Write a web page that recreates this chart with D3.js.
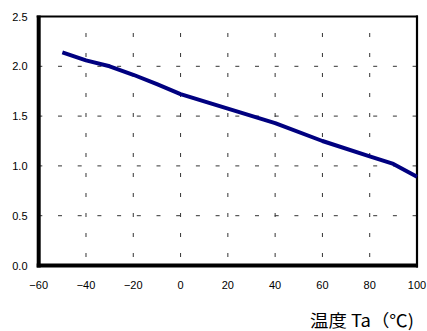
<!DOCTYPE html>
<html><head><meta charset="utf-8">
<script src="https://cdn.jsdelivr.net/npm/d3@7"></script>
<style>body{margin:0;background:#fff;} svg{display:block;}</style>
</head><body>
<svg id="c" width="427" height="331"></svg>
<script>
const temps = [-50, -40, -30, -20, -10, 0, 20, 40, 60, 80, 90, 100];
const values = [2.14, 2.06, 2.0, 1.915, 1.82, 1.72, 1.575, 1.43, 1.25, 1.095, 1.02, 0.89];
const xTicks = [-60, -40, -20, 0, 20, 40, 60, 80, 100];
const yTicks = [0.0, 0.5, 1.0, 1.5, 2.0, 2.5];
const xTitle = "温度 Ta（℃)";

const svg = d3.select("#c");
const L = 38.7, R = 417, T = 16.5, B = 265.5;
const x = d3.scaleLinear().domain([-60, 100]).range([L, R]);
const y = d3.scaleLinear().domain([0, 2.5]).range([B, T]);
const font = "'Liberation Sans', Arial, sans-serif";

// grid
const g = svg.append("g");
yTicks.filter(v => v > 0 && v < 2.5).forEach(v => {
  g.append("line").attr("x1", L).attr("x2", R).attr("y1", y(v)).attr("y2", y(v))
   .attr("stroke", "#333").attr("stroke-width", 1).attr("stroke-dasharray", "4,15.7").attr("stroke-dashoffset", 0.4);
});
xTicks.filter(v => v > -60 && v < 100).forEach(v => {
  g.append("line").attr("x1", x(v)).attr("x2", x(v)).attr("y1", B).attr("y2", T)
   .attr("stroke", "#333").attr("stroke-width", 1).attr("stroke-dasharray", "4,16").attr("stroke-dashoffset", -8.5);
});

// frame
svg.append("line").attr("x1", L - 2).attr("x2", R + 1).attr("y1", T).attr("y2", T).attr("stroke", "#000").attr("stroke-width", 2);
svg.append("line").attr("x1", R).attr("x2", R).attr("y1", T - 1).attr("y2", B + 2).attr("stroke", "#000").attr("stroke-width", 2.2);
svg.append("line").attr("x1", L).attr("x2", L).attr("y1", T - 1).attr("y2", B + 2).attr("stroke", "#000").attr("stroke-width", 4);
svg.append("line").attr("x1", L - 2).attr("x2", R + 1).attr("y1", B).attr("y2", B).attr("stroke", "#000").attr("stroke-width", 4);

// curve
const line = d3.line().x((d, i) => x(temps[i])).y(d => y(d));
svg.append("path").datum(values).attr("d", line).attr("fill", "none")
  .attr("stroke", "#000080").attr("stroke-width", 4).attr("stroke-linejoin", "round").attr("stroke-linecap", "butt");

// y labels
svg.append("g").selectAll("text").data(yTicks).join("text")
  .attr("x", 27.5).attr("y", d => y(d) + 4).attr("text-anchor", "end")
  .attr("font-family", font).attr("font-size", 11).attr("fill", "#000")
  .text(d => d.toFixed(1));

// x labels
svg.append("g").selectAll("text").data(xTicks).join("text")
  .attr("x", d => x(d)).attr("y", 288.5).attr("text-anchor", "middle")
  .attr("font-family", font).attr("font-size", 11).attr("fill", "#000")
  .text(d => (d < 0 ? "\u2212" + Math.abs(d) : String(d)));

svg.append("text").attr("x", 310).attr("y", 326.5).attr("text-anchor", "start")
  .attr("font-family", "'Noto Sans CJK JP', sans-serif").attr("font-size", 17).attr("fill", "#000")
  .attr("textLength", 104).attr("lengthAdjust", "spacingAndGlyphs")
  .text(xTitle);
</script>
</body></html>
